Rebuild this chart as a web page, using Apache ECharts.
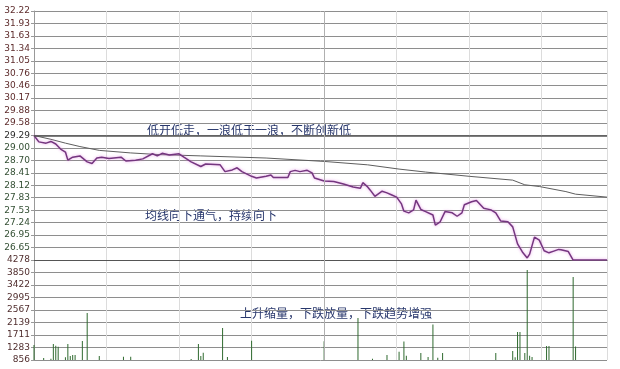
<!DOCTYPE html>
<html>
<head>
<meta charset="utf-8">
<script src="https://cdn.jsdelivr.net/npm/echarts@6/dist/echarts.min.js"></script>
<style>
html,body{margin:0;padding:0;background:#fff;}
#c{width:620px;height:369px;}
</style>
</head>
<body>
<div id="c"></div>
<script>
// ---- data ----
const prevClose = 29.29;
const priceTicks = ['32.22','31.93','31.63','31.34','31.05','30.76','30.46','30.17','29.88','29.58','29.29','29.00','28.70','28.41','28.12','27.83','27.53','27.24','26.95','26.65'];
const volTicks = ['856','1283','1711','2139','2567','2995','3422','3850','4278'];

const priceMinutes = [0,2,5,7,9,11,13,14,16,19,22,24,26,28,31,36,38,42,45,49,51,53,56,60,62,65,69,71,77,79,82,84,86,90,92,96,98,99,105,106,108,110,113,115,116,120,124,128,132,135,136,138,139,141,144,146,148,150,152,153,155,157,158,160,162,165,166,168,170,173,175,177,178,181,183,186,189,191,193,196,198,200,202,204,205,207,209,211,213,215,217,218,221,223,237];
const prices = [29.29,29.14,29.11,29.15,29.09,28.97,28.90,28.71,28.78,28.81,28.67,28.63,28.76,28.78,28.75,28.78,28.69,28.71,28.74,28.86,28.81,28.87,28.83,28.86,28.78,28.67,28.56,28.62,28.60,28.44,28.48,28.53,28.44,28.33,28.29,28.33,28.36,28.30,28.30,28.44,28.47,28.44,28.47,28.41,28.29,28.22,28.21,28.15,28.08,28.05,28.18,28.08,28.01,27.86,27.98,27.94,27.89,27.84,27.68,27.51,27.47,27.54,27.77,27.55,27.50,27.42,27.18,27.26,27.50,27.47,27.39,27.47,27.66,27.73,27.76,27.58,27.54,27.47,27.28,27.26,27.14,26.74,26.55,26.41,26.50,26.90,26.83,26.58,26.53,26.57,26.61,26.60,26.56,26.36,26.36];

const avgMinutes = [0,7,13,19,27,40,52,69,96,120,138,151,162,180,198,203,209,220,224,237];
const avgPrices = [29.29,29.20,29.11,29.03,28.94,28.88,28.84,28.81,28.76,28.68,28.60,28.50,28.43,28.33,28.24,28.13,28.09,27.97,27.91,27.84];

const volMinutes = [0,4,7,8,9,10,13,14,15,16,17,20,22,27,37,40,65,68,69,70,78,80,90,120,134,140,146,151,153,154,160,163,165,167,169,191,198,199,200,201,203,204,205,206,212,213,223,224];
const volumes = [1369,924,900,1403,1345,1311,950,1403,993,1027,1027,1506,2464,993,970,970,890,1403,993,1106,1951,960,1517,1500,2293,900,1027,1140,1485,1000,1095,960,2067,930,1095,1095,1164,950,1814,1814,1095,3936,1000,960,1335,1335,3696,1315];

// ---- chart ----
const PSTEP = 0.2929, VSTEP = 427.75;
const pricePairs = priceMinutes.map((m, i) => [m, prices[i]]);
const avgPairs = avgMinutes.map((m, i) => [m, avgPrices[i]]);
const volPairs = volMinutes.map((m, i) => [m, volumes[i]]);

const chart = echarts.init(document.getElementById('c'), null, {renderer: 'canvas'});
const labelFont = {fontFamily: 'DejaVu Sans', fontSize: 9};
const gridLine = {show: true, lineStyle: {color: '#8e8e8e', width: 1}};
const vLine = {show: true, lineStyle: {color: '#dcdcdc', width: 1}};

chart.setOption({
  animation: false,
  backgroundColor: '#ffffff',
  grid: [
    {left: 34, right: 13, top: 11, height: 249},
    {left: 34, right: 13, top: 260, height: 100}
  ],
  xAxis: [
    {gridIndex: 0, type: 'value', min: 0, max: 237, interval: 30,
     axisLabel: {show: false}, axisTick: {show: false},
     axisLine: {show: true, lineStyle: {color: '#555', width: 1}},
     splitLine: vLine},
    {gridIndex: 1, type: 'value', min: 0, max: 237, interval: 30,
     axisLabel: {show: false}, axisTick: {show: false},
     axisLine: {show: false},
     splitLine: vLine}
  ],
  yAxis: [
    {gridIndex: 0, type: 'value', min: PSTEP * 90, max: PSTEP * 110, interval: PSTEP,
     axisLine: {show: true, lineStyle: {color: '#999'}},
     axisTick: {show: true, length: 3, lineStyle: {color: '#999'}},
     splitLine: gridLine,
     axisLabel: Object.assign({}, labelFont, {
       margin: 4,
       formatter: function (v) {
         const i = Math.round((PSTEP * 110 - v) / PSTEP);
         return i < priceTicks.length ? priceTicks[i] : '';
       },
       color: function (v) {
         const i = Math.round((PSTEP * 110 - v) / PSTEP);
         if (i < 10) return '#5e2c2c';
         if (i === 10) return '#2a2a2a';
         return '#334f33';
       }
     })},
    {gridIndex: 1, type: 'value', min: VSTEP * 2, max: VSTEP * 10, interval: VSTEP,
     axisLine: {show: true, lineStyle: {color: '#999'}},
     axisTick: {show: true, length: 3, lineStyle: {color: '#999'}},
     splitLine: gridLine,
     axisLabel: Object.assign({}, labelFont, {
       margin: 4, color: '#502e2e',
       formatter: function (v) {
         const i = Math.round((v - VSTEP * 2) / VSTEP);
         return volTicks[i] || '';
       }
     })}
  ],
  series: [
    {type: 'line', xAxisIndex: 0, yAxisIndex: 0, data: avgPairs, symbol: 'none',
     lineStyle: {color: '#5e5e5e', width: 1}, z: 3},
    {type: 'line', xAxisIndex: 0, yAxisIndex: 0, data: pricePairs, symbol: 'none',
     lineStyle: {color: '#74367f', width: 1.5, shadowColor: 'rgba(225,130,225,0.8)', shadowBlur: 3},
     z: 4,
     markLine: {symbol: 'none', silent: true, label: {show: false},
       lineStyle: {color: '#555', type: 'solid', width: 1.5},
       data: [{yAxis: prevClose}]}},
    {type: 'line', xAxisIndex: 0, yAxisIndex: 0, data: [], symbol: 'none',
     markLine: {symbol: 'none', silent: true, label: {show: false},
       lineStyle: {color: '#b0b0b0', type: 'solid', width: 1},
       data: [{xAxis: 120}]}},
    {type: 'bar', xAxisIndex: 1, yAxisIndex: 1, data: volPairs, barWidth: 1,
     itemStyle: {color: '#2f6a2f'}},
    {type: 'line', xAxisIndex: 1, yAxisIndex: 1, data: [], symbol: 'none',
     markLine: {symbol: 'none', silent: true, label: {show: false},
       lineStyle: {color: '#b0b0b0', type: 'solid', width: 1},
       data: [{xAxis: 120}]}}
  ],
  graphic: [
    {type: 'text', left: 147, top: 124,
     style: {text: '低开低走，一浪低于一浪，不断创新低', fill: '#28376c', font: '12px "Noto Sans CJK SC"'}},
    {type: 'text', left: 145, top: 209,
     style: {text: '均线向下通气，持续向下', fill: '#28376c', font: '12px "Noto Sans CJK SC"'}},
    {type: 'text', left: 240, top: 307,
     style: {text: '上升缩量，下跌放量，下跌趋势增强', fill: '#28376c', font: '12px "Noto Sans CJK SC"'}}
  ]
});
</script>
</body>
</html>
